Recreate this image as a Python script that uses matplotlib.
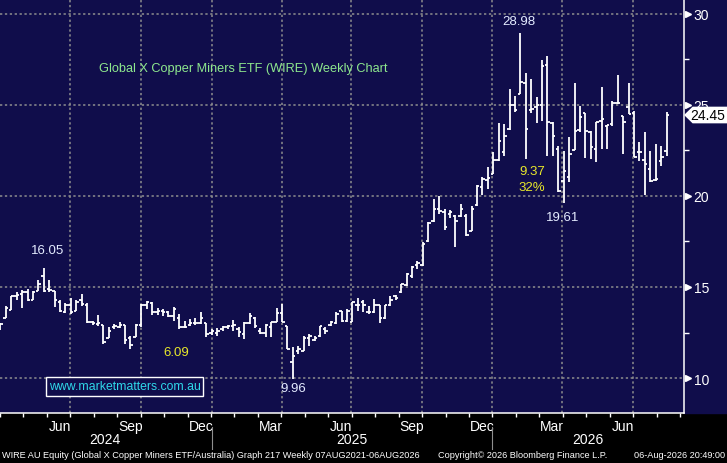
import numpy as np
import matplotlib
matplotlib.use('Agg')
import matplotlib.pyplot as plt
from matplotlib.patches import Rectangle, Polygon
from matplotlib.transforms import blended_transform_factory

plt.rcParams['font.family'] = ['Liberation Sans', 'DejaVu Sans']

# weekly OHLC, WIRE AU, Apr-2024 .. Aug-2026
opens = [12.70, 13.30, 13.75, 14.50, 14.60, 14.70, 14.30, 14.80, 15.60, 14.90,
         14.80, 14.20, 13.65, 14.00, 13.70, 14.30, 14.00, 13.10, 12.95, 12.90,
         12.20, 12.80, 12.80, 12.90, 12.20, 12.25, 12.90, 14.00, 14.10, 13.60,
         13.70, 13.60, 13.40, 13.30, 12.80, 12.90, 13.00, 13.00, 13.00, 12.50,
         12.50, 12.70, 12.80, 12.85, 12.70, 12.40, 13.00, 13.30, 12.60, 12.50,
         12.80, 13.10, 13.55, 12.88, 10.90, 11.50, 11.50, 12.20, 12.10, 12.30,
         12.70, 12.90, 13.00, 13.66, 13.11, 13.10, 14.00, 14.20, 13.60, 13.60,
         14.00, 13.30, 14.00, 14.50, 14.70, 15.10, 15.60, 16.20, 16.20, 17.50,
         18.60, 19.30, 19.10, 19.00, 18.90, 18.90, 18.90, 18.10, 19.50, 20.50,
         20.90, 21.20, 22.00, 22.40, 23.70, 25.00, 25.60, 26.20, 24.70, 24.90,
         25.00, 27.20, 24.00, 22.60, 20.80, 21.03, 22.55, 23.65, 24.56, 23.50,
         22.58, 24.14, 23.83, 23.96, 25.11, 24.38, 24.87, 24.56, 22.40, 22.00,
         21.50, 20.90, 21.90, 22.49]
highs = [13.00, 13.93, 14.52, 14.74, 14.83, 14.89, 14.76, 15.40, 16.05, 15.38,
         14.80, 14.28, 14.10, 14.39, 14.28, 14.61, 14.10, 13.15, 13.46, 12.90,
         12.78, 12.96, 13.10, 12.90, 12.33, 12.97, 14.07, 14.25, 14.20, 13.83,
         13.79, 13.70, 13.92, 13.52, 13.15, 13.24, 13.28, 13.61, 13.00, 12.69,
         12.73, 12.88, 12.93, 13.19, 12.78, 13.06, 13.55, 13.33, 12.73, 12.97,
         13.10, 13.83, 14.07, 12.88, 11.69, 11.78, 12.33, 12.42, 12.33, 12.88,
         12.78, 13.15, 13.61, 13.70, 13.79, 14.16, 14.38, 14.30, 13.97, 14.34,
         14.01, 14.01, 14.52, 14.56, 15.16, 15.77, 16.14, 16.45, 17.45, 18.55,
         19.83, 20.02, 19.29, 19.25, 18.95, 19.56, 19.00, 19.43, 20.60, 21.03,
         21.58, 22.40, 23.99, 23.96, 25.87, 25.51, 28.98, 26.75, 26.43, 25.45,
         27.47, 27.67, 24.05, 22.77, 22.49, 23.22, 26.21, 24.96, 24.56, 23.59,
         24.05, 25.97, 23.90, 25.24, 26.65, 24.38, 26.21, 24.69, 22.95, 23.50,
         22.49, 22.86, 22.77, 24.60]
lows = [12.65, 13.29, 13.73, 14.28, 13.82, 14.25, 14.28, 14.76, 14.70, 14.70,
        13.92, 13.60, 13.55, 13.51, 13.70, 13.97, 13.02, 12.93, 12.87, 11.86,
        12.20, 12.69, 12.72, 11.87, 11.60, 12.23, 12.78, 13.79, 13.46, 13.46,
        13.43, 13.33, 13.15, 12.69, 12.73, 12.88, 12.91, 12.97, 12.23, 12.36,
        12.33, 12.60, 12.69, 12.60, 12.27, 12.14, 12.95, 12.73, 12.42, 12.24,
        12.27, 13.06, 13.10, 11.60, 9.96, 11.32, 11.50, 11.78, 12.05, 12.27,
        12.42, 12.88, 12.97, 13.10, 13.10, 13.09, 13.70, 13.61, 13.52, 13.58,
        13.00, 13.24, 13.97, 14.30, 14.67, 15.07, 15.51, 15.99, 16.14, 17.49,
        18.59, 19.01, 18.15, 18.77, 17.18, 18.83, 17.82, 18.10, 19.45, 20.07,
        20.38, 21.20, 21.90, 22.22, 23.63, 24.60, 25.60, 22.05, 24.54, 24.00,
        24.14, 22.22, 22.22, 20.24, 19.61, 20.75, 22.50, 23.54, 22.07, 22.03,
        21.85, 22.58, 22.58, 23.87, 25.06, 22.31, 24.51, 22.12, 21.94, 20.06,
        20.75, 20.84, 21.67, 22.22]
closes = [12.95, 13.85, 14.50, 14.55, 14.70, 14.30, 14.70, 15.15, 14.80, 14.85,
          14.30, 13.70, 14.00, 13.65, 14.20, 14.05, 13.10, 13.00, 13.00, 12.00,
          12.60, 12.85, 12.90, 12.10, 11.80, 12.90, 14.00, 14.20, 13.60, 13.70,
          13.60, 13.40, 13.80, 12.80, 12.80, 13.00, 13.00, 13.30, 12.40, 12.60,
          12.60, 12.80, 12.85, 12.90, 12.55, 13.00, 13.40, 12.85, 12.50, 12.90,
          13.06, 13.55, 13.10, 11.60, 11.20, 11.60, 12.20, 12.30, 12.20, 12.85,
          12.60, 13.10, 13.50, 13.12, 13.70, 14.15, 14.00, 14.00, 13.60, 14.00,
          13.30, 14.00, 14.30, 14.40, 15.15, 15.70, 16.10, 16.30, 17.35, 18.50,
          19.30, 19.20, 18.30, 19.10, 18.60, 19.30, 17.85, 19.30, 20.55, 20.94,
          21.00, 22.00, 23.00, 23.30, 25.00, 24.70, 26.25, 23.70, 24.80, 25.00,
          27.16, 24.05, 23.30, 20.30, 21.40, 22.31, 23.59, 24.32, 23.59, 22.67,
          24.05, 24.23, 23.90, 25.11, 25.11, 24.08, 24.51, 22.12, 22.44, 21.76,
          20.84, 20.93, 22.13, 24.45]

# axis furniture (week index positions)
grid_x = [12.9, 25.9, 39.0, 51.9, 64.8, 77.9, 90.8, 103.7, 116.8]
month_labels = ['Jun', 'Sep', 'Dec', 'Mar', 'Jun', 'Sep', 'Dec', 'Mar', 'Jun']
years = ['2024', '2025', '2026']
year_x = [19.3, 64.8, 108.5]
year_sep = [39.0, 90.8]
price_ticks = [10, 15, 20, 25, 30]

title = 'Global X Copper Miners ETF (WIRE) Weekly Chart'
website = 'www.marketmatters.com.au'
footer_l = ('WIRE AU Equity (Global X Copper Miners ETF/Australia) Graph 217 '
            'Weekly 07AUG2021-06AUG2026')
footer_m = 'Copyright\u00a9 2026 Bloomberg Finance L.P.'
footer_r = '06-Aug-2026 20:49:00'

NAVY = '#100d4b'
GRID = '#8e8e8e'
W, H = 727, 464

fig = plt.figure(figsize=(W / 100, H / 100), dpi=100, facecolor='black')
ax = fig.add_axes([0, 50 / H, 684 / W, 414 / H])
ax.set_facecolor(NAVY)
fig.add_artist(Rectangle((684 / W, 50 / H), 43 / W, 414 / H,
                         transform=fig.transFigure, color=NAVY, zorder=-1))

x = np.arange(len(closes))
ax.set_xlim(0.092, 126.22)
ax.set_ylim(8.077, 30.824)

# dotted grid
for g in grid_x:
    ax.axvline(g, color=GRID, lw=1.1, ls=(0, (1.5, 1.7)), zorder=1)
for p in price_ticks:
    ax.axhline(p, color=GRID, lw=1.1, ls=(0, (1.5, 1.7)), zorder=1)

# OHLC bars
tw = 0.45
ax.vlines(x, lows, highs, color='white', lw=1.3, zorder=3)
ax.hlines(opens, x - tw, x, color='white', lw=1.3, zorder=3)
ax.hlines(closes, x, x + tw, color='white', lw=1.3, zorder=3)

# spines / ticks
for s in ['top', 'left']:
    ax.spines[s].set_visible(False)
ax.spines['right'].set_color('white')
ax.spines['bottom'].set_color('white')
ax.spines['right'].set_linewidth(1.1)
ax.spines['bottom'].set_linewidth(1.1)

ax.yaxis.tick_right()
ax.set_yticks(price_ticks)
ax.set_yticklabels([str(p) for p in price_ticks])
ax.set_yticks([12.5, 17.5, 22.5, 27.5], minor=True)
ax.tick_params(axis='y', which='major', length=0, pad=7, labelsize=10,
               labelcolor='white')
ax.tick_params(axis='y', which='minor', length=3.5, width=1, color='white',
               direction='out')

tri = blended_transform_factory(ax.transAxes, ax.transData)
ax.plot([1.006] * len(price_ticks), price_ticks, ls='none', marker='>',
        ms=5, color='white', transform=tri, clip_on=False, zorder=5)

month_x = [g - 1.9 for g in grid_x]
ax.set_xticks(month_x)
ax.set_xticklabels(month_labels)
ax.set_xticks(np.arange(grid_x[0] - 3 * 4.33, 126.2, 4.33), minor=True)
ax.tick_params(axis='x', which='major', length=0, pad=4, labelsize=10,
               labelcolor='white')
ax.tick_params(axis='x', which='minor', length=3, width=1, color='white',
               direction='out')

xt = blended_transform_factory(ax.transData, ax.transAxes)
for yr, yx in zip(years, year_x):
    ax.text(yx, -0.063, yr, transform=xt, ha='center', va='center',
            color='white', fontsize=10, clip_on=False)
for sx in year_sep:
    ax.plot([sx, sx], [-0.034, -0.087], color=GRID, lw=0.8, transform=xt,
            clip_on=False)

# annotations
LBL = '#e4ebff'
YEL = '#e8e82a'
i_hi1 = int(np.argmax(highs[:30]))
i_lo1 = int(np.argmin(lows))
i_hi2 = int(np.argmax(highs))
i_lo2 = i_hi2 + int(np.argmin(lows[i_hi2:]))
for i, v, off in [(i_hi1, highs[i_hi1], (2.9, 13.2)),
                  (i_hi2, highs[i_hi2], (-1.2, 8.4)),
                  (i_lo2, lows[i_lo2], (-0.8, -10)),
                  (i_lo1, lows[i_lo1], (0.4, -6.5))]:
    ax.annotate(f'{v:.2f}', (i, v), xytext=off, textcoords='offset points',
                ha='center', va='center', color=LBL, fontsize=9.5, zorder=6)

drop1 = highs[i_hi1] - lows[i_lo1]
drop2 = highs[i_hi2] - lows[i_lo2]
ax.text(32.4, 11.43, f'{drop1:.2f}', color=YEL, fontsize=9.5,
        ha='center', va='center')
ax.text(98.2, 21.37, f'{drop2:.2f}', color=YEL, fontsize=9.5,
        ha='center', va='center')
ax.text(98.2, 20.47, f'{drop2 / highs[i_hi2] * 100:.0f}%', color=YEL,
        fontsize=9.5, ha='center', va='center')

ax.text(243 / 684, 1 - 69 / 414, title, transform=ax.transAxes,
        ha='center', va='center', color='#8ee88e', fontsize=9.2, zorder=6)
ax.text(124.5 / 684, 1 - 387.5 / 414, website, transform=ax.transAxes,
        ha='center', va='center', color='#2fd9ea', fontsize=8.8, zorder=6,
        bbox=dict(boxstyle='square,pad=0.25', fc=NAVY, ec='white', lw=1))

# last price flag
last = closes[-1]
ax.add_patch(Polygon([(1.0015, last), (1.013, last + 0.42),
                      (1.07, last + 0.42), (1.07, last - 0.42),
                      (1.013, last - 0.42)], closed=True, fc='white',
                     ec='white', transform=tri, clip_on=False, zorder=7))
ax.text(1.035, last, f'{last:.2f}', transform=tri, ha='center', va='center',
        color='black', fontsize=10, zorder=8, clip_on=False)

# footer
fs = 6.6
fig.text(2 / W, 8 / H, footer_l, color='white', fontsize=fs,
         va='center', ha='left')
fig.text(438 / W, 8 / H, footer_m, color='white', fontsize=fs,
         va='center', ha='left')
fig.text(725 / W, 8 / H, footer_r, color='white', fontsize=fs,
         va='center', ha='right')

fig.savefig('out.png', dpi=100, facecolor='black')
